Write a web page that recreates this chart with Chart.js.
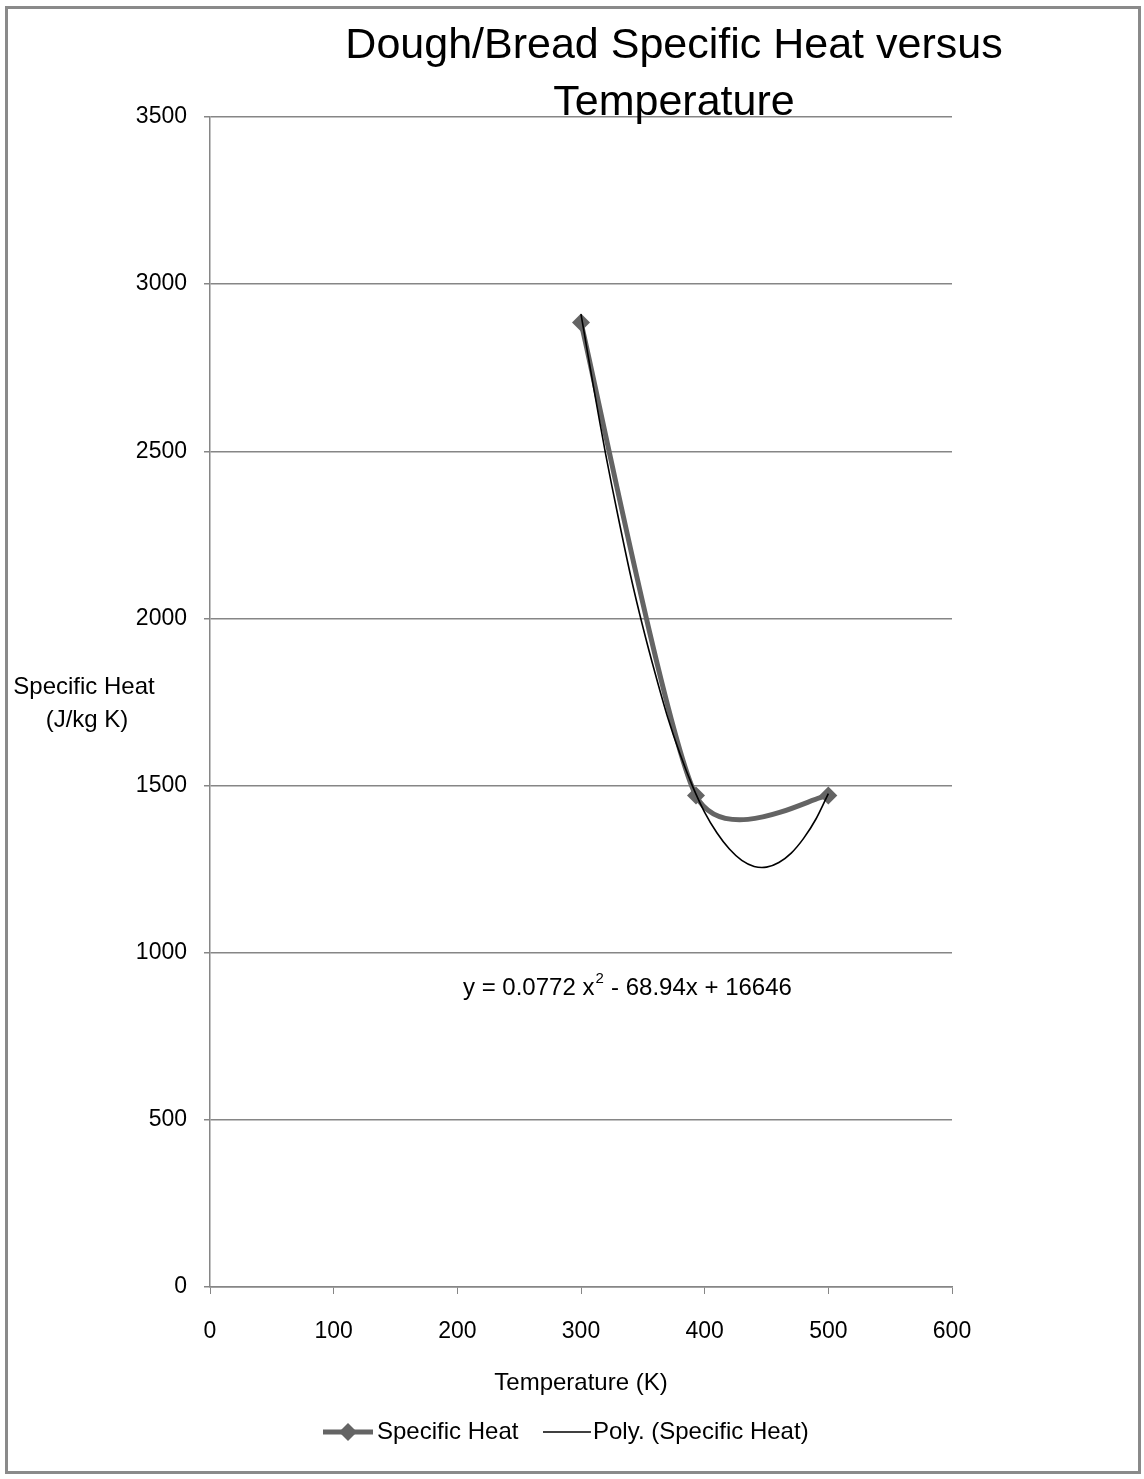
<!DOCTYPE html>
<html>
<head>
<meta charset="utf-8">
<title>Dough/Bread Specific Heat versus Temperature</title>
<script src="https://cdn.jsdelivr.net/npm/chart.js@4.4.1/dist/chart.umd.min.js"></script>
<style>
  html, body { margin: 0; padding: 0; background: #fff; }
  #wrap { width: 1144px; height: 1479px; position: relative; }
</style>
</head>
<body>
<div id="wrap"><canvas id="heatChart" width="1144" height="1479"></canvas></div>
<script>
// measured data (temperature K, specific heat J/kg K)
const tempK = [300, 393, 500];
const specificHeat = [2885, 1470, 1470];

// polynomial trendline, values
const polyTemp = [300, 310, 320, 330, 340, 350, 360, 370, 380, 390, 400,
                  410, 420, 430, 440, 450, 460, 470, 480, 490, 500];
const polyHeat = [2910, 2695, 2490, 2305, 2130, 1975, 1835, 1705, 1595, 1500, 1420,
                  1358, 1310, 1276, 1258, 1256, 1270, 1298, 1342, 1400, 1476];

const xTicks = [0, 100, 200, 300, 400, 500, 600];
const yTicks = [0, 500, 1000, 1500, 2000, 2500, 3000, 3500];

const FONT = 'Liberation Sans, Arial, sans-serif';
const axisGrey = '#868686';
const seriesGrey = '#646464';
const smoothK = 0.115; // Excel-like smoothing handle length

// Excel "smoothed line": handles along (next - prev), same length on both sides
const excelSmooth = {
    id: 'excelSmooth',
    beforeDatasetDraw(chart, args) {
        if (args.index !== 0) return;
        const pts = args.meta.data;
        for (let i = 0; i < pts.length; i++) {
            const p = pts[i];
            const prev = pts[Math.max(i - 1, 0)];
            const next = pts[Math.min(i + 1, pts.length - 1)];
            const dx = next.x - prev.x, dy = next.y - prev.y;
            p.cp1x = p.x - smoothK * dx; p.cp1y = p.y - smoothK * dy;
            p.cp2x = p.x + smoothK * dx; p.cp2y = p.y + smoothK * dy;
        }
        args.meta.dataset._pointsUpdated = true;
        args.meta.dataset._path = undefined;
    }
};

// titles, axis captions, equation, legend and frame (Excel style layout)
const decorations = {
    id: 'decorations',
    afterDraw(chart) {
        const c = chart.ctx;
        c.save();
        // outer frame
        c.strokeStyle = '#8a8a8a';
        c.lineWidth = 3;
        c.strokeRect(6.5, 7.5, 1133, 1465);

        c.fillStyle = '#000';
        c.textAlign = 'center';
        c.textBaseline = 'middle';
        c.font = '43px ' + FONT;
        c.fillText('Dough/Bread Specific Heat versus', 674, 46);
        c.fillText('Temperature', 674, 103);

        c.font = '24px ' + FONT;
        c.fillText('Specific Heat', 84, 687);
        c.fillText('(J/kg K)', 87, 720);
        c.fillText('Temperature (K)', 581, 1383);

        // trendline equation
        c.textAlign = 'left';
        c.fillText('y = 0.0772 x', 463, 988);
        let w = c.measureText('y = 0.0772 x').width;
        c.font = '15px ' + FONT;
        c.fillText('2', 463 + w + 1, 979);
        c.font = '24px ' + FONT;
        c.fillText(' - 68.94x + 16646', 463 + w + 10, 988);

        // legend
        const ly = 1432;
        c.strokeStyle = seriesGrey;
        c.lineWidth = 5;
        c.beginPath(); c.moveTo(323, ly); c.lineTo(373, ly); c.stroke();
        c.fillStyle = seriesGrey;
        c.beginPath();
        c.moveTo(348, ly - 9); c.lineTo(357, ly); c.lineTo(348, ly + 9); c.lineTo(339, ly);
        c.closePath(); c.fill();
        c.fillStyle = '#000';
        c.fillText(chart.data.datasets[0].label, 377, ly);
        c.strokeStyle = '#000';
        c.lineWidth = 1.5;
        c.beginPath(); c.moveTo(543, ly); c.lineTo(591, ly); c.stroke();
        c.fillText(chart.data.datasets[1].label, 593, ly);
        c.restore();
    }
};

const ctx = document.getElementById('heatChart').getContext('2d');
new Chart(ctx, {
    type: 'scatter',
    data: {
        datasets: [{
            label: 'Specific Heat',
            data: tempK.map((t, i) => ({ x: t, y: specificHeat[i] })),
            showLine: true,
            tension: 0.5,
            borderColor: seriesGrey,
            borderWidth: 5,
            backgroundColor: seriesGrey,
            pointStyle: 'rectRot',
            pointRadius: 9,
            pointBorderWidth: 0,
            order: 1
        }, {
            label: 'Poly. (Specific Heat)',
            data: polyTemp.map((t, i) => ({ x: t, y: polyHeat[i] })),
            showLine: true,
            tension: 0.3,
            borderColor: '#000',
            borderWidth: 1.6,
            pointRadius: 0,
            order: 0
        }]
    },
    options: {
        responsive: false,
        animation: false,
        layout: { padding: { top: 117, right: 192, bottom: 0, left: 0 } },
        plugins: {
            legend: { display: false },
            title: { display: false },
            tooltip: { enabled: false }
        },
        scales: {
            x: {
                type: 'linear',
                min: 0,
                max: 600,
                afterFit: s => { s.height = 192; },
                afterBuildTicks: s => { s.ticks = xTicks.map(v => ({ value: v })); },
                grid: { drawOnChartArea: false, drawTicks: true, tickLength: 7, color: axisGrey },
                border: { color: axisGrey, width: 1.5 },
                ticks: { color: '#000', padding: 24, font: { family: FONT, size: 23 },
                         callback: v => String(v) }
            },
            y: {
                type: 'linear',
                min: 0,
                max: 3500,
                afterFit: s => { s.width = 210; },
                afterBuildTicks: s => { s.ticks = yTicks.map(v => ({ value: v })); },
                grid: { color: axisGrey, lineWidth: 1.5, tickLength: 6 },
                border: { color: axisGrey, width: 1.5 },
                ticks: { color: '#000', padding: 17, font: { family: FONT, size: 23 },
                         callback: v => String(v) }
            }
        }
    },
    plugins: [excelSmooth, decorations]
});
</script>
</body>
</html>
